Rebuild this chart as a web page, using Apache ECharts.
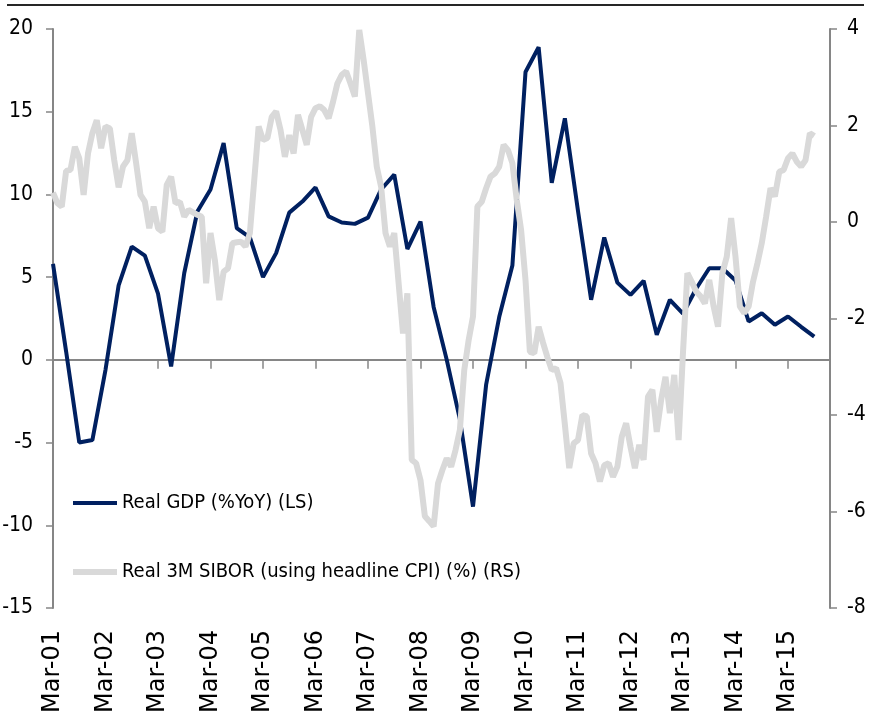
<!DOCTYPE html>
<html>
<head>
<meta charset="utf-8">
<script src="https://cdn.jsdelivr.net/npm/echarts@6/dist/echarts.min.js"></script>
<style>
  html, body { margin: 0; padding: 0; background: #fff; }
  #chart { width: 872px; height: 721px; }
</style>
</head>
<body>
<div id="chart"></div>
<script>
  // x positions are months since Mar-01
  const tickLabels = ['Mar-01', 'Mar-02', 'Mar-03', 'Mar-04', 'Mar-05', 'Mar-06', 'Mar-07', 'Mar-08',
    'Mar-09', 'Mar-10', 'Mar-11', 'Mar-12', 'Mar-13', 'Mar-14', 'Mar-15'];

  // quarterly, Mar-01 .. Sep-15 (LS)
  const gdpYoY = [5.8, 0.5, -5.0, -4.85, -0.6, 4.5, 6.85, 6.3, 4.0, -0.4, 5.25, 8.97,
    10.3, 13.1, 7.97, 7.4, 5.0, 6.45, 8.9, 9.57, 10.42, 8.67, 8.3, 8.22,
    8.6, 10.3, 11.2, 6.7, 8.36, 3.2, 0.0, -3.6, -8.87, -1.5, 2.6, 5.7,
    17.4, 18.9, 10.7, 14.6, 9.0, 3.63, 7.4, 4.67, 3.93, 4.78, 1.51, 3.63,
    2.8, 4.3, 5.54, 5.54, 4.8, 2.32, 2.82, 2.12, 2.62, 2.0, 1.41];

  // monthly, Mar-01 .. Sep-15 (RS)
  const realSibor = [0.61, 0.39, 0.32, 1.06, 1.08, 1.56, 1.32, 0.56, 1.42, 1.84, 2.11, 1.53,
    1.98, 1.94, 1.28, 0.72, 1.15, 1.28, 1.84, 1.22, 0.56, 0.42, -0.13, 0.32,
    -0.13, -0.2, 0.77, 0.94, 0.39, 0.42, 0.11, 0.25, 0.2, 0.15, 0.11, -1.27,
    -0.23, -0.79, -1.62, -1.03, -0.96, -0.44, -0.42, -0.41, -0.51, -0.23, 0.87, 1.98,
    1.70, 1.74, 2.18, 2.29, 1.91, 1.35, 1.80, 1.42, 2.22, 1.91, 1.6, 2.18,
    2.36, 2.40, 2.32, 2.15, 2.49, 2.87, 3.05, 3.12, 2.87, 2.6, 3.98, 3.36,
    2.67, 1.98, 1.15, 0.73, -0.23, -0.51, -0.23, -1.27, -2.31, -1.48, -4.93, -5.0,
    -5.35, -6.1, -6.2, -6.31, -5.42, -5.14, -4.9, -5.07, -4.73, -4.31, -3.07, -2.45,
    -1.96, 0.32, 0.42, 0.7, 0.94, 1.01, 1.15, 1.6, 1.49, 1.22, 0.46, -0.17,
    -1.2, -2.69, -2.72, -2.17, -2.5, -2.8, -3.07, -3.03, -3.34, -4.2, -5.1, -4.59,
    -4.52, -4.0, -4.03, -4.8, -5.0, -5.38, -5.04, -5.0, -5.28, -5.07, -4.45, -4.17,
    -4.66, -5.1, -4.62, -4.93, -3.62, -3.48, -4.35, -3.69, -3.21, -3.96, -3.17, -4.52,
    -2.7, -1.06, -1.24, -1.44, -1.54, -1.69, -1.2, -1.75, -2.17, -1.06, -0.72, 0.08,
    -0.72, -1.75, -1.89, -1.75, -1.24, -0.86, -0.44, 0.11, 0.7, 0.53, 1.04, 1.08,
    1.32, 1.42, 1.25, 1.15, 1.28, 1.84, 1.78];

  const gdpName = 'Real GDP (%YoY) (LS)';
  const siborName = 'Real 3M SIBOR (using headline CPI) (%) (RS)';

  const narrow = "'Liberation Sans Narrow', 'DejaVu Sans Condensed', 'Liberation Sans', sans-serif";
  const axisGrey = '#868686';

  const chart = echarts.init(document.getElementById('chart'));

  const option = {
    animation: false,
    grid: { left: 53, right: 42, top: 29, bottom: 113, outerBoundsMode: 'none', containLabel: false },
    graphic: [{
      type: 'line',
      shape: { x1: 7, y1: 5, x2: 864, y2: 5 },
      style: { stroke: '#262626', lineWidth: 2 }
    }],
    legend: [
      {
        data: [gdpName],
        left: 73, top: 493, padding: 0,
        icon: 'rect', itemWidth: 44, itemHeight: 4,
        textStyle: { fontSize: 20, fontFamily: narrow, color: '#000' }
      },
      {
        data: [siborName],
        left: 73, top: 562, padding: 0,
        icon: 'rect', itemWidth: 44, itemHeight: 6,
        textStyle: { fontSize: 20, fontFamily: narrow, color: '#000' }
      }
    ],
    xAxis: {
      type: 'value',
      min: 0,
      max: 177.6,
      interval: 12,
      axisLine: { onZero: true, onZeroAxisIndex: 0, lineStyle: { color: axisGrey, width: 2 } },
      axisTick: { length: 9, lineStyle: { color: axisGrey, width: 1.5 } },
      axisLabel: {
        rotate: 90,
        margin: 22,
        fontSize: 24,
        fontFamily: "'DejaVu Sans', sans-serif",
        color: '#000',
        formatter: function (v) {
          return v % 12 === 0 ? (tickLabels[v / 12] || '') : '';
        }
      },
      splitLine: { show: false }
    },
    yAxis: [
      {
        type: 'value',
        position: 'left',
        min: -15, max: 20, interval: 5,
        axisLine: { show: true, onZero: false, lineStyle: { color: axisGrey, width: 2 } },
        axisTick: { show: true, length: 7, lineStyle: { color: axisGrey, width: 1.5 } },
        axisLabel: { margin: 20, fontSize: 21, fontFamily: narrow, color: '#000' },
        splitLine: { show: false }
      },
      {
        type: 'value',
        position: 'right',
        min: -8, max: 4, interval: 2,
        axisLine: { show: true, onZero: false, lineStyle: { color: axisGrey, width: 2 } },
        axisTick: { show: true, length: 7, lineStyle: { color: axisGrey, width: 1.5 } },
        axisLabel: { margin: 17, fontSize: 21, fontFamily: narrow, color: '#000' },
        splitLine: { show: false }
      }
    ],
    series: [
      {
        name: gdpName,
        type: 'line',
        yAxisIndex: 0,
        data: gdpYoY.map((v, i) => [i * 3, v]),
        symbol: 'none',
        itemStyle: { color: '#002060' },
        lineStyle: { color: '#002060', width: 4 }
      },
      {
        name: siborName,
        type: 'line',
        yAxisIndex: 1,
        data: realSibor.map((v, i) => [i, v]),
        symbol: 'none',
        itemStyle: { color: '#d9d9d9' },
        lineStyle: { color: '#d9d9d9', width: 6 }
      }
    ]
  };

  chart.setOption(option);
</script>
</body>
</html>
